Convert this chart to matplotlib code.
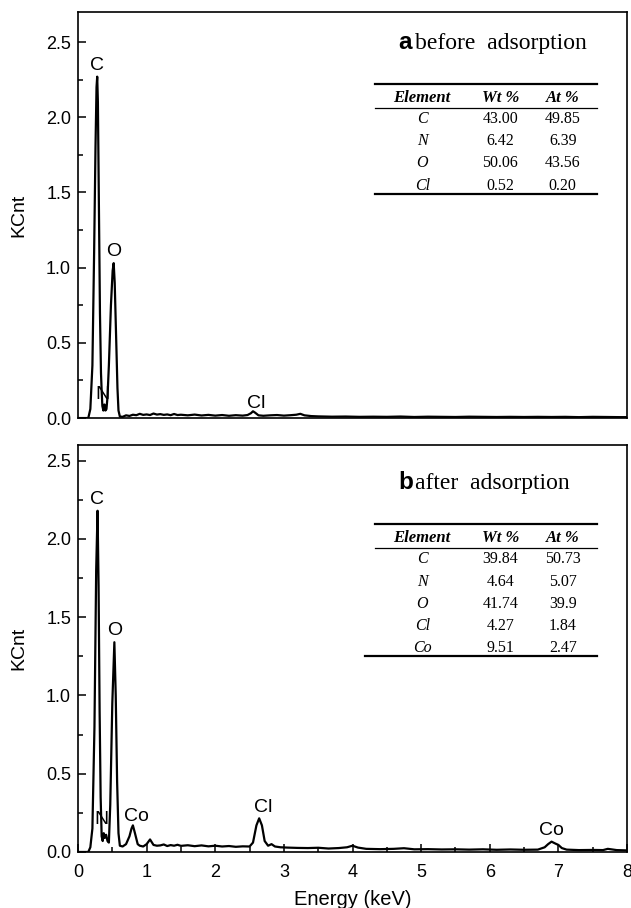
import numpy as np
import matplotlib
matplotlib.use("Agg")
import matplotlib.pyplot as plt
from matplotlib.ticker import MultipleLocator

plt.rcParams.update({
    "font.family": "Liberation Sans",
    "font.size": 12,
    "axes.linewidth": 1.2,
    "xtick.direction": "in",
    "ytick.direction": "in",
})

SERIF = "Liberation Serif"

# ── Spectrum a: before adsorption (energy keV, KCnt) ──────────────────────
E_A = [0.00, 0.10, 0.15, 0.18, 0.21, 0.235, 0.255, 0.27, 0.28, 0.29, 0.305,
       0.32, 0.335, 0.345, 0.355, 0.37, 0.385, 0.40, 0.415, 0.43, 0.45, 0.48,
       0.505, 0.52, 0.535, 0.555, 0.575, 0.59, 0.61, 0.65,
       0.70, 0.75, 0.80, 0.85, 0.90, 0.95, 1.00, 1.05, 1.10, 1.15, 1.20,
       1.25, 1.30, 1.35, 1.40, 1.45, 1.50, 1.60, 1.70, 1.80, 1.90, 2.00,
       2.10, 2.20, 2.30, 2.40, 2.47, 2.52, 2.55, 2.58, 2.63, 2.70, 2.80,
       2.90, 3.00, 3.10, 3.18, 3.24, 3.30, 3.40, 3.50, 3.70, 3.90, 4.10,
       4.30, 4.50, 4.70, 4.90, 5.10, 5.30, 5.50, 5.70, 5.90, 6.10, 6.30,
       6.50, 6.70, 6.90, 7.10, 7.30, 7.50, 7.70, 7.90, 8.00]
I_A = [0.000, 0.000, 0.000, 0.060, 0.350, 1.100, 1.800, 2.200, 2.270, 2.100, 1.400,
       0.700, 0.300, 0.180, 0.080, 0.050, 0.090, 0.050, 0.060, 0.140, 0.350, 0.750,
       0.980, 1.030, 0.900, 0.550, 0.200, 0.050, 0.010, 0.008,
       0.018, 0.014, 0.022, 0.019, 0.028, 0.021, 0.024, 0.020, 0.030, 0.023, 0.026,
       0.021, 0.024, 0.019, 0.027, 0.020, 0.022, 0.018, 0.023, 0.017, 0.021, 0.016,
       0.020, 0.015, 0.019, 0.016, 0.020, 0.032, 0.045, 0.036, 0.018, 0.015, 0.018,
       0.020, 0.016, 0.019, 0.022, 0.028, 0.018, 0.013, 0.011, 0.009, 0.010, 0.008,
       0.009, 0.008, 0.010, 0.007, 0.009, 0.008, 0.007, 0.009, 0.008, 0.007, 0.008,
       0.007, 0.008, 0.007, 0.008, 0.006, 0.008, 0.007, 0.006, 0.006]

# ── Spectrum b: after adsorption ──────────────────────────────────────────
E_B = [0.00, 0.10, 0.15, 0.18, 0.21, 0.24, 0.265, 0.285, 0.30, 0.315, 0.33,
       0.345, 0.36, 0.375, 0.39, 0.41, 0.43, 0.45, 0.47, 0.50, 0.53, 0.55,
       0.57, 0.59, 0.61, 0.65, 0.70, 0.75, 0.78, 0.80, 0.83, 0.87, 0.90,
       0.95, 1.00, 1.05, 1.10, 1.15, 1.20, 1.25, 1.30, 1.35, 1.40, 1.45,
       1.50, 1.60, 1.70, 1.80, 1.90, 2.00, 2.10, 2.20, 2.30, 2.40, 2.50,
       2.55, 2.60, 2.64, 2.68, 2.72, 2.77, 2.82, 2.87, 2.95, 3.05, 3.20,
       3.35, 3.50, 3.65, 3.80, 3.92, 4.00, 4.08, 4.20, 4.40, 4.60, 4.75,
       4.90, 5.10, 5.30, 5.50, 5.70, 5.90, 6.10, 6.30, 6.50, 6.70, 6.80,
       6.85, 6.90, 6.95, 7.00, 7.05, 7.12, 7.30, 7.50, 7.65, 7.72, 7.85, 8.00]
I_B = [0.000, 0.000, 0.000, 0.030, 0.150, 0.800, 1.800, 2.180, 1.700, 0.900, 0.350,
       0.100, 0.070, 0.120, 0.090, 0.110, 0.070, 0.060, 0.300, 0.950, 1.340, 1.000,
       0.450, 0.120, 0.040, 0.035, 0.050, 0.100, 0.150, 0.170, 0.120, 0.050, 0.040,
       0.035, 0.050, 0.080, 0.045, 0.040, 0.042, 0.048, 0.038, 0.044, 0.040, 0.046,
       0.039, 0.043, 0.037, 0.042, 0.036, 0.040, 0.035, 0.038, 0.033, 0.036, 0.035,
       0.060, 0.170, 0.215, 0.170, 0.070, 0.040, 0.050, 0.035, 0.030, 0.028, 0.026,
       0.025, 0.027, 0.022, 0.025, 0.030, 0.040, 0.028, 0.020, 0.018, 0.020, 0.024,
       0.017, 0.018, 0.016, 0.017, 0.015, 0.017, 0.014, 0.016, 0.014, 0.015, 0.030,
       0.050, 0.066, 0.055, 0.045, 0.025, 0.015, 0.012, 0.013, 0.012, 0.020, 0.012, 0.010]

# ── Peak labels (element, energy, KCnt position of label) ────────────────
PEAKS_A = [("C", 0.28, 2.29), ("O", 0.52, 1.05), ("N", 0.36, 0.10), ("Cl", 2.60, 0.04)]
PEAKS_B = [("C", 0.28, 2.195), ("O", 0.53, 1.36), ("N", 0.34, 0.155),
           ("Co", 0.85, 0.17), ("Cl", 2.70, 0.23), ("Co", 6.90, 0.08)]

# ── Composition tables ────────────────────────────────────────────────────
HEADER = ["Element", "Wt %", "At %"]
ELEM_A = ["C", "N", "O", "Cl"]
WT_A = ["43.00", "6.42", "50.06", "0.52"]
AT_A = ["49.85", "6.39", "43.56", "0.20"]
ELEM_B = ["C", "N", "O", "Cl", "Co"]
WT_B = ["39.84", "4.64", "41.74", "4.27", "9.51"]
AT_B = ["50.73", "5.07", "39.9", "1.84", "2.47"]

XMAX = 8
YMAX_A = 2.70
YMAX_B = 2.60

COL_X = [0.627, 0.769, 0.883]
TFS = 11.5   # table font size


def draw_table(ax, tag, title, elems, wt, at, top, x_left, bottom_left):
    """Inset composition table; 'top' is the axes-fraction y of the top rule."""
    t = ax.transAxes
    ax.text(0.583, top + 0.101, tag, transform=t, fontsize=17.5,
            fontweight="bold", va="center", ha="left")
    ax.text(0.614, top + 0.099, title, transform=t, fontsize=17,
            family=SERIF, va="center", ha="left")
    ax.plot([x_left, 0.945], [top, top], transform=t, color="black", lw=1.6,
            clip_on=False)
    hy = top - 0.035
    for x, h in zip(COL_X, HEADER):
        ax.text(x, hy, h, transform=t, family=SERIF, fontsize=TFS + 0.5,
                fontweight="bold", style="italic", ha="center", va="center")
    ax.plot([x_left, 0.945], [top - 0.060, top - 0.060], transform=t,
            color="black", lw=0.9, clip_on=False)
    y = top - 0.087
    step = 0.0545
    for e, w, a in zip(elems, wt, at):
        ax.text(COL_X[0], y, e, transform=t, family=SERIF, style="italic",
                fontsize=TFS, ha="center", va="center")
        ax.text(COL_X[1], y, w, transform=t, family=SERIF, fontsize=TFS,
                ha="center", va="center")
        ax.text(COL_X[2], y, a, transform=t, family=SERIF, fontsize=TFS,
                ha="center", va="center")
        y -= step
    yb = y + step - 0.020
    ax.plot([bottom_left, 0.945], [yb, yb], transform=t, color="black",
            lw=1.6, clip_on=False)


fig = plt.figure(figsize=(6.31, 9.08), dpi=100)
ax_a = fig.add_axes([0.1236, 0.5396, 0.8701, 0.4472])
ax_b = fig.add_axes([0.1236, 0.0617, 0.8701, 0.4482])

for ax, E, I, ymax, peaks in [(ax_a, E_A, I_A, YMAX_A, PEAKS_A),
                              (ax_b, E_B, I_B, YMAX_B, PEAKS_B)]:
    ax.plot(E, I, color="black", lw=1.6)
    ax.set_xlim(0, XMAX)
    ax.set_ylim(0, ymax)
    ax.yaxis.set_major_locator(MultipleLocator(0.5))
    ax.yaxis.set_minor_locator(MultipleLocator(0.25))
    ax.yaxis.set_major_formatter(matplotlib.ticker.FormatStrFormatter("%.1f"))
    ax.tick_params(axis="y", which="major", length=6, width=1.1, labelsize=13,
                   pad=5)
    ax.tick_params(axis="y", which="minor", length=3.5, width=1.1)
    ax.set_ylabel("KCnt", fontsize=14, labelpad=13)
    for name, x, y in peaks:
        ax.text(x, y, name, fontsize=14, ha="center", va="bottom")

# top panel: no x ticks
ax_a.tick_params(axis="x", which="both", bottom=False, labelbottom=False)

ax_b.xaxis.set_major_locator(MultipleLocator(1))
ax_b.xaxis.set_minor_locator(MultipleLocator(0.5))
ax_b.tick_params(axis="x", which="major", length=6, width=1.1, labelsize=13,
                 pad=9)
ax_b.tick_params(axis="x", which="minor", length=3.5, width=1.1)
ax_b.set_xlabel("Energy (keV)", fontsize=14.5, labelpad=6)

draw_table(ax_a, "a", "before  adsorption", ELEM_A, WT_A, AT_A,
           top=0.823, x_left=0.541, bottom_left=0.541)
draw_table(ax_b, "b", "after  adsorption", ELEM_B, WT_B, AT_B,
           top=0.806, x_left=0.541, bottom_left=0.523)

fig.savefig("out.png", dpi=100)
